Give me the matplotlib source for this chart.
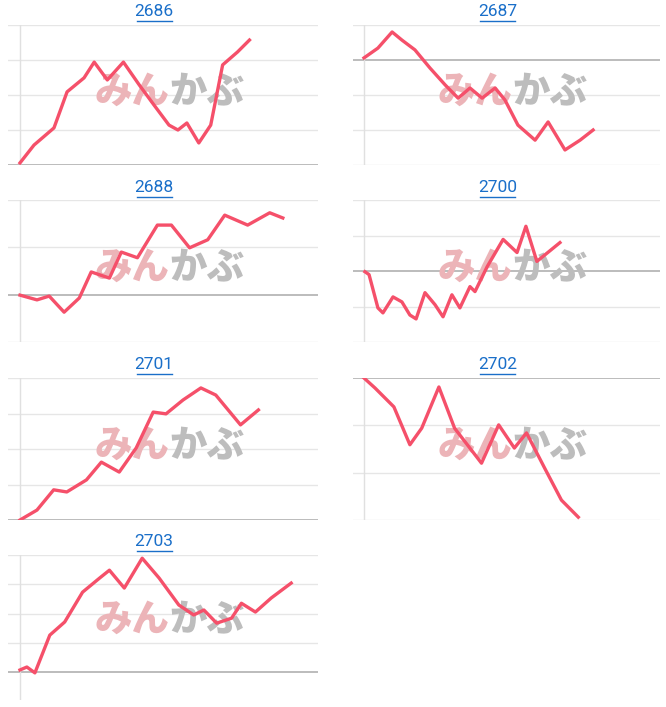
import matplotlib
matplotlib.use("Agg")
import matplotlib.pyplot as plt

titles = ["2686", "2687", "2688", "2700", "2701", "2702", "2703"]
xs = [
    [0, 4.7, 11.4, 15.8, 21.5, 24.9, 29.3, 34.7, 40, 45, 50, 53, 56, 60, 64, 68, 73, 77],
    [0, 4.7, 9.5, 12.8, 17.2, 22.3, 27.4, 31.8, 35.8, 39.9, 44.3, 47.6, 52, 57.8, 62.2, 67.9, 73, 77.4],
    [0, 5.7, 9.8, 14.8, 19.9, 23.9, 30, 34, 39.4, 46.1, 50.8, 56.9, 63, 68.7, 76.4, 83.8, 88.2],
    [0.3, 1.7, 4.7, 6.4, 9.8, 12.8, 15.5, 17.6, 20.6, 24, 26.7, 29.7, 32.4, 35.8, 37.5, 41.6, 47, 51.7, 54.7, 58.4, 66.2],
    [0, 5.7, 11.3, 15.7, 22.3, 27.3, 33.3, 39, 44.7, 49, 54.7, 60.7, 65.7, 74, 80],
    [0, 3.7, 10.1, 15.5, 19.5, 25.3, 30.6, 39.7, 45.5, 50.8, 54.9, 61, 66.7, 72.4],
    [0, 2.3, 5, 10, 15, 21, 26.7, 30, 35, 41, 46.7, 53.3, 58.3, 61.7, 66, 71, 74.3, 79, 84.3, 91],
]
ys = [
    [0.06, 0.57, 1.06, 2.09, 2.49, 2.94, 2.43, 2.94, 2.29, 1.71, 1.14, 1.0, 1.2, 0.63, 1.14, 2.86, 3.23, 3.57],
    [3.06, 3.34, 3.8, 3.57, 3.29, 2.77, 2.29, 1.91, 2.2, 1.91, 2.2, 1.86, 1.14, 0.71, 1.23, 0.43, 0.71, 1.0],
    [0.99, 0.89, 0.97, 0.63, 0.93, 1.48, 1.35, 1.9, 1.78, 2.47, 2.47, 1.99, 2.16, 2.68, 2.47, 2.73, 2.62],
    [1.98, 1.9, 0.96, 0.82, 1.27, 1.13, 0.76, 0.65, 1.39, 1.05, 0.71, 1.33, 0.96, 1.56, 1.42, 2.12, 2.89, 2.52, 3.26, 2.27, 2.8],
    [0, 0.28, 0.85, 0.79, 1.13, 1.63, 1.35, 2.03, 3.04, 2.99, 3.38, 3.72, 3.52, 2.68, 3.1],
    [3.0, 2.79, 2.39, 1.59, 1.94, 2.81, 1.94, 1.2, 2.01, 1.52, 1.84, 1.1, 0.42, 0.06],
    [0.07, 0.17, -0.03, 1.26, 1.71, 2.73, 3.21, 3.48, 2.87, 3.89, 3.21, 2.29, 1.95, 2.12, 1.67, 1.84, 2.35, 2.05, 2.53, 3.04],
]
ntop = [4, 4, 3, 4, 4, 3, 4]
base = [0, 3, 1, 2, 0, 3, 0]

W, H = 666, 707
fig = plt.figure(figsize=(W / 100, H / 100), dpi=100)
cols = [(8, 318), (353, 660)]
axis_x = [20, 364]
rows = [(25, 165, 12), (200, 342, 188), (378, 520, 365), (555, 672, 542)]

for i, t in enumerate(titles):
    r, c = divmod(i, 2)
    x0, x1 = cols[c]
    top, bot, ty = rows[r]
    lowext = 0.95 if r == 3 else 0.0
    unit = (bot - top) / ntop[i]
    bot_px = bot + lowext * unit
    ax = fig.add_axes([x0 / W, 1 - bot_px / H, (x1 - x0) / W, (bot_px - top) / H])
    ax_x = axis_x[c]
    scale = (x1 - ax_x) / 100
    ax.set_xlim(-(ax_x - x0) / scale, 100)
    ax.set_ylim(-lowext, ntop[i])
    for g in range(ntop[i] + 1):
        ax.axhline(g, color="#b0b0b0" if g == base[i] else "#e6e6e6", lw=1.2 if g == base[i] else 1.0, zorder=1)
    ax.axvline(0, color="#e0e0e0", lw=1.0, zorder=1)
    ax.axis("off")
    wy = 0.52 if r < 3 else 0.55
    ax.text(0.52, wy, "みん", transform=ax.transAxes, ha="right", va="center",
            fontsize=27, fontweight="black", style="italic", color="#ecb4b8",
            family=["Noto Sans CJK JP"], zorder=2)
    ax.text(0.52, wy, "かぶ", transform=ax.transAxes, ha="left", va="center",
            fontsize=27, fontweight="black", style="italic", color="#bdbdbd",
            family=["Noto Sans CJK JP"], zorder=2)
    ax.plot(xs[i], ys[i], color="#f5506a", lw=2.4, zorder=3)
    cx = (x0 + x1) / 2 - 9
    fig.text(cx / W, 1 - ty / H, t, ha="center", va="center",
             fontsize=12.5, color="#1a6fc9", family=["Roboto", "DejaVu Sans"])
    tw = 35
    fig.add_artist(plt.Line2D([(cx - tw / 2) / W, (cx + tw / 2) / W],
                              [1 - (ty + 9) / H] * 2, color="#1a6fc9", lw=1))

fig.savefig("out.png", dpi=100)
